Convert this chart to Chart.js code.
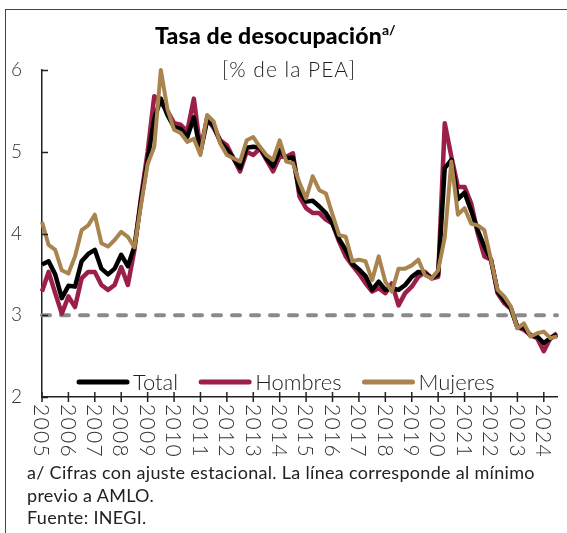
<!DOCTYPE html>
<html>
<head>
<meta charset="utf-8">
<script src="https://cdn.jsdelivr.net/npm/chart.js@4.4.1/dist/chart.umd.min.js"></script>
<style>
  body { margin: 0; background: #fff; font-family: Lato, sans-serif; }
  #wrap { position: relative; width: 567px; height: 533px; overflow: hidden; }
  #frame { position: absolute; left: 5px; top: 9px; width: 700px; height: 700px;
           border-top: 1.5px solid #444; border-left: 1.5px solid #444; }
  #titulo { position: absolute; left: 155px; top: 21px; font-size: 23px; font-weight: 900; letter-spacing: 0.2px; color: #000; white-space: nowrap; }
  #titulo sup { font-size: 14px; font-weight: 700; vertical-align: 9px; letter-spacing: 0; }
  #subtitulo { position: absolute; left: 222px; top: 56px; font-size: 21px; font-weight: 300; letter-spacing: 1px; color: #222; white-space: nowrap; }
  #nota { position: absolute; left: 27px; top: 461px; font-size: 18px; letter-spacing: 0.3px; line-height: 22.5px; color: #222; white-space: nowrap; }
  canvas { position: absolute; left: 0; top: 0; }
</style>
</head>
<body>
<div id="wrap">
  <canvas id="grafica" width="567" height="533"></canvas>
  <div id="frame"></div>
  <div id="titulo">Tasa de desocupación<sup>a/</sup></div>
  <div id="subtitulo">[% de la PEA]</div>
  <div id="nota">a/ Cifras con ajuste estacional. La línea corresponde al mínimo<br>previo a AMLO.<br>Fuente: INEGI.</div>
</div>
<script>
// Años del eje (etiquetas) y trimestres 2005 T1 - 2024 T3
const years = [2005, 2006, 2007, 2008, 2009, 2010, 2011, 2012, 2013, 2014,
               2015, 2016, 2017, 2018, 2019, 2020, 2021, 2022, 2023, 2024];
const quarterLabels = years.flatMap(yr => ['T1', 'T2', 'T3', 'T4'].map(q => yr + ' ' + q)).slice(0, 79);

const total = [
  3.62, 3.66, 3.50, 3.21, 3.36, 3.35, 3.66, 3.75, 3.80, 3.57, 3.50, 3.57, 3.74, 3.60, 3.84,
  4.40, 4.90, 5.40, 5.65, 5.45,
  5.30, 5.28, 5.18, 5.42, 5.00, 5.38, 5.32, 5.12, 5.03, 4.92, 4.80, 5.05, 5.06, 5.05, 4.92, 4.82, 5.02, 4.92, 4.93, 4.52,
  4.39, 4.40, 4.33, 4.25, 4.12, 3.93, 3.80, 3.63, 3.56, 3.48, 3.31, 3.41, 3.31, 3.33, 3.31, 3.37, 3.47, 3.53, 3.51, 3.46,
  3.50, 4.80, 4.90, 4.42, 4.50, 4.28, 4.04, 3.84, 3.68, 3.29, 3.18, 3.09, 2.85, 2.85, 2.75, 2.74, 2.66, 2.72, 2.76
];
const hombres = [
  3.29, 3.53, 3.27, 3.02, 3.23, 3.10, 3.45, 3.53, 3.53, 3.37, 3.31, 3.37, 3.59, 3.37, 3.80,
  4.45, 5.00, 5.68, 5.60, 5.50,
  5.35, 5.33, 5.25, 5.65, 5.02, 5.41, 5.29, 5.14, 5.08, 4.92, 4.76, 5.00, 4.96, 5.04, 4.90, 4.76, 4.94, 4.94, 4.98, 4.45,
  4.31, 4.25, 4.25, 4.17, 4.12, 3.90, 3.72, 3.61, 3.51, 3.39, 3.29, 3.33, 3.27, 3.39, 3.12, 3.27, 3.35, 3.47, 3.53, 3.45,
  3.47, 5.35, 4.94, 4.57, 4.57, 4.37, 4.00, 3.72, 3.68, 3.27, 3.15, 3.08, 2.86, 2.82, 2.76, 2.72, 2.56, 2.72, 2.78
];
const mujeres = [
  4.14, 3.86, 3.80, 3.55, 3.51, 3.72, 4.04, 4.10, 4.23, 3.88, 3.84, 3.92, 4.02, 3.96, 3.83,
  4.35, 4.85, 5.06, 6.00, 5.52,
  5.27, 5.23, 5.12, 5.16, 4.96, 5.45, 5.37, 5.10, 4.96, 4.92, 4.88, 5.14, 5.18, 5.06, 4.96, 4.90, 5.14, 4.88, 4.86, 4.62,
  4.43, 4.70, 4.53, 4.49, 4.23, 3.98, 3.96, 3.66, 3.68, 3.66, 3.43, 3.72, 3.41, 3.29, 3.57, 3.57, 3.61, 3.68, 3.49, 3.45,
  3.55, 3.95, 4.88, 4.23, 4.31, 4.12, 4.10, 4.04, 3.68, 3.31, 3.23, 3.11, 2.84, 2.90, 2.74, 2.78, 2.80, 2.72, 2.74
];
const minimoPrevio = 3.0; // mínimo previo a AMLO

const colores = { total: '#000000', hombres: '#9c1f48', mujeres: '#a9844f', minimo: '#8a8a8a' };

// marcas del eje: ticks hacia dentro en Y, cruzados en X, años rotados
const marcasEjes = {
  id: 'marcasEjes',
  afterDraw(chart) {
    const { ctx, chartArea, scales: { x, y } } = chart;
    ctx.save();
    ctx.strokeStyle = '#222';
    ctx.lineWidth = 1.5;
    y.ticks.forEach(t => {
      const py = Math.round(y.getPixelForValue(t.value)) + 0.5;
      ctx.beginPath();
      ctx.moveTo(chartArea.left, py);
      ctx.lineTo(chartArea.left + 6, py);
      ctx.stroke();
    });
    ctx.fillStyle = '#333';
    ctx.font = '300 21px Lato';
    ctx.letterSpacing = '1.3px';
    ctx.textAlign = 'left';
    ctx.textBaseline = 'middle';
    years.forEach(yr => {
      const px = x.getPixelForValue(quarterLabels.indexOf(yr + ' T1'));
      ctx.beginPath();
      ctx.moveTo(px, chartArea.bottom - 5);
      ctx.lineTo(px, chartArea.bottom + 5);
      ctx.stroke();
      ctx.save();
      ctx.translate(px, chartArea.bottom + 7);
      ctx.rotate(Math.PI / 2);
      ctx.fillText(String(yr), 0, 1);
      ctx.restore();
    });
    ctx.restore();
  }
};

// leyenda dentro del área de la gráfica
const leyenda = {
  id: 'leyenda',
  afterDraw(chart) {
    const { ctx, chartArea } = chart;
    const items = chart.data.datasets.filter(d => d.enLeyenda)
      .sort((a, b) => a.posLeyenda - b.posLeyenda);
    ctx.save();
    ctx.font = '300 22px Lato';
    ctx.textBaseline = 'middle';
    ctx.textAlign = 'left';
    let cx = chartArea.left + 35;
    const cy = chartArea.bottom - 15;
    items.forEach(d => {
      ctx.strokeStyle = d.borderColor;
      ctx.lineWidth = 5;
      ctx.lineCap = 'round';
      ctx.beginPath();
      ctx.moveTo(cx + 2, cy);
      ctx.lineTo(cx + 50, cy);
      ctx.stroke();
      cx += 56;
      ctx.fillStyle = '#222';
      ctx.fillText(d.label, cx, cy + 1);
      cx += ctx.measureText(d.label).width + 21;
    });
    ctx.restore();
  }
};

new Chart(document.getElementById('grafica'), {
  type: 'line',
  data: {
    labels: quarterLabels,
    datasets: [
      { label: 'Total', data: total, borderColor: colores.total, borderWidth: 4.5,
        order: 2, enLeyenda: true, posLeyenda: 1 },
      { label: 'Hombres', data: hombres, borderColor: colores.hombres, borderWidth: 4.5,
        order: 3, enLeyenda: true, posLeyenda: 2 },
      { label: 'Mujeres', data: mujeres, borderColor: colores.mujeres, borderWidth: 4,
        order: 1, enLeyenda: true, posLeyenda: 3 },
      { label: 'Mínimo previo', data: [
          { x: quarterLabels[0], y: minimoPrevio },
          { x: quarterLabels[quarterLabels.length - 1], y: minimoPrevio }
        ],
        borderColor: colores.minimo, borderWidth: 4, borderDash: [8, 11], borderCapStyle: 'round',
        order: 4 }
    ]
  },
  options: {
    responsive: false,
    animation: false,
    layout: { padding: { top: 70, bottom: 136, left: 0, right: 10 } },
    elements: {
      point: { radius: 0, hoverRadius: 0 },
      line: { tension: 0, fill: false, borderJoinStyle: 'round' }
    },
    datasets: { line: { clip: 12 } },
    plugins: {
      legend: { display: false },
      tooltip: { enabled: false }
    },
    scales: {
      x: {
        type: 'category',
        offset: false,
        grid: { display: false, drawTicks: false },
        border: { display: true, color: '#222', width: 1.5 },
        ticks: { display: false }
      },
      y: {
        min: 2,
        max: 6,
        grid: { display: false, drawTicks: false },
        border: { display: true, color: '#222', width: 1.5 },
        ticks: {
          stepSize: 1,
          padding: 20,
          color: '#333',
          font: { family: 'Lato', size: 19, weight: 300 }
        },
        afterFit(scale) { scale.width = 42; }
      }
    }
  },
  plugins: [marcasEjes, leyenda]
});
</script>
</body>
</html>
